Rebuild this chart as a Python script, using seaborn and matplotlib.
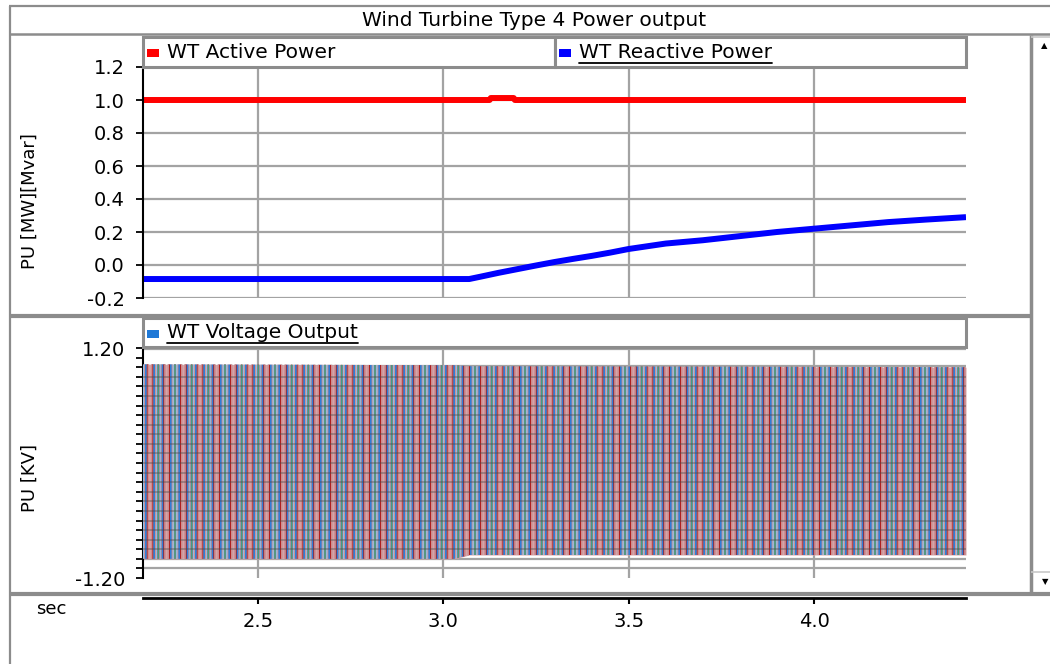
import numpy as np
import matplotlib
matplotlib.use("Agg")
import matplotlib.pyplot as plt
from matplotlib.patches import Rectangle
from matplotlib.lines import Line2D
import seaborn as sns

# ---- data -------------------------------------------------------------
# Active power output (pu)
t_active = [2.19, 3.125, 3.128, 3.19, 3.193, 4.41]
p_active = [1.0, 1.0, 1.012, 1.012, 1.0, 1.0]

# Reactive power output (pu)
t_reactive = [2.19, 3.07, 3.10, 3.15, 3.20, 3.25, 3.30, 3.35, 3.40, 3.45,
              3.50, 3.60, 3.70, 3.80, 3.90, 4.00, 4.10, 4.20, 4.30, 4.41]
q_reactive = [-0.085, -0.085, -0.071, -0.047, -0.025, -0.003, 0.018, 0.037,
              0.055, 0.075, 0.097, 0.13, 0.15, 0.175, 0.20, 0.22, 0.24,
              0.26, 0.275, 0.29]

# Three-phase terminal voltage envelope (pu)
t_voltage = [2.19, 3.03, 3.07, 4.41]
v_upper = [1.03, 1.02, 1.01, 1.0]
v_lower = [-1.0, -1.0, -0.96, -0.96]

x_ticks = [2.5, 3.0, 3.5, 4.0]
x_tick_labels = ["2.5", "3.0", "3.5", "4.0"]
top_y_ticks = [-0.2, 0.0, 0.2, 0.4, 0.6, 0.8, 1.0, 1.2]
top_y_labels = ["-0.2", "0.0", "0.2", "0.4", "0.6", "0.8", "1.0", "1.2"]
bottom_y_ticks = [-1.2, 1.2]
bottom_y_labels = ["-1.20", "1.20"]

title = "Wind Turbine Type 4 Power output"
series_names = ["WT Active Power", "WT Reactive Power", "WT Voltage Output"]

# ---- style ------------------------------------------------------------
sns.set_theme(style="white")
plt.rcParams["font.family"] = ["DejaVu Sans"]
plt.rcParams["hatch.linewidth"] = 1.2

W, H = 1050, 664
fig = plt.figure(figsize=(W / 100, H / 100), dpi=100)
fig.patch.set_facecolor("white")

FRAME = "#8c8c8c"
GRID = "#a3a3a3"
XLIM = (2.19, 4.41)
TICK_FS = 14
LEG_FS = 14.5


def fxy(x, y):
    return x / W, 1 - y / H


def add_ax(x0, y0, x1, y1):
    return fig.add_axes([x0 / W, 1 - y1 / H, (x1 - x0) / W, (y1 - y0) / H])


def hline(x0, x1, y, lw=2.0, color=FRAME):
    fig.add_artist(Line2D([x0 / W, x1 / W], [1 - y / H, 1 - y / H],
                          transform=fig.transFigure, color=color, lw=lw,
                          solid_capstyle="butt"))


def vline(x, y0, y1, lw=2.0, color=FRAME):
    fig.add_artist(Line2D([x / W, x / W], [1 - y0 / H, 1 - y1 / H],
                          transform=fig.transFigure, color=color, lw=lw,
                          solid_capstyle="butt"))


def style_axes(ax):
    for s in ["top", "right", "bottom"]:
        ax.spines[s].set_visible(False)
    ax.spines["left"].set_color("black")
    ax.spines["left"].set_linewidth(1.5)
    ax.set_facecolor("white")
    ax.set_xlim(*XLIM)
    ax.set_xticks(x_ticks)
    ax.tick_params(axis="x", length=0, labelbottom=False)
    ax.tick_params(axis="y", which="both", direction="out", length=5,
                   width=1.3, color="black", pad=8, labelsize=TICK_FS,
                   labelcolor="black", left=True)
    ax.set_xlabel("")
    ax.set_ylabel("")


# ---- window frame -----------------------------------------------------
hline(9, 1050, 6, lw=1.6)
vline(10, 6, 664, lw=1.6)
hline(9, 1050, 34, lw=1.8)
hline(9, 1032, 316, lw=3.0)
hline(9, 1050, 594, lw=3.0)
vline(1031, 35, 594, lw=2.5)
hline(1031, 1050, 37, lw=1.2, color="#c8c8c8")
hline(1031, 1050, 572, lw=1.2, color="#c8c8c8")
fig.text(*fxy(1044, 46), "\u25B2", ha="center", va="center", fontsize=6, color="black")
fig.text(*fxy(1045, 582), "\u25BC", ha="center", va="center", fontsize=6, color="black")
fig.text(*fxy(534, 20), title, ha="center", va="center", fontsize=14.5, color="black")

# ---- top panel: active / reactive power -------------------------------
ax1 = add_ax(143, 67, 966, 298)
style_axes(ax1)
ax1.set_ylim(-0.2, 1.2)
ax1.set_yticks(top_y_ticks)
ax1.set_yticklabels(top_y_labels)
ax1.grid(True, color=GRID, lw=1.6)
ax1.set_axisbelow(True)
sns.lineplot(x=t_active, y=p_active, ax=ax1, color="#ff0000", lw=4.3,
             legend=False, sort=False)
sns.lineplot(x=t_reactive, y=q_reactive, ax=ax1, color="#0000ff", lw=4.3,
             legend=False, sort=False)
for ln in ax1.lines:
    ln.set_solid_capstyle("butt")
ax1.set_xlim(*XLIM)
fig.text(*fxy(30, 201), "PU [MW][Mvar]", rotation=90, ha="center",
         va="center", fontsize=13, color="black")

# ---- bottom panel: voltage --------------------------------------------
ax2 = add_ax(143, 348, 966, 578)
style_axes(ax2)
ax2.set_ylim(-1.2, 1.2)
ax2.set_yticks(bottom_y_ticks)
ax2.set_yticklabels(bottom_y_labels)
ax2.set_yticks(np.round(np.arange(-1.1, 1.15, 0.1), 2), minor=True)
ax2.grid(True, axis="x", color=GRID, lw=1.6)
for yv in [1.19, 1.01, -1.0, -1.1]:
    ax2.axhline(yv, color=GRID, lw=1.6, zorder=0.5)
ax2.set_axisbelow(True)

# dense three-phase trace drawn as a striped band between its envelopes
ax2.fill_between(t_voltage, v_lower, v_upper, facecolor="#d6a4a9",
                 lw=0, zorder=2)
for hatch, col in [("||||", "#8fbde6"), ("|||", "#a80c0c"),
                   ("|||||", "#cf8c8c"), ("|", "#3f9c86"),
                   ("||", "#2f7fd8")]:
    ax2.fill_between(t_voltage, v_lower, v_upper, facecolor="none",
                     edgecolor=col, hatch=hatch, lw=0, zorder=3)
ax2.hlines(np.round(np.arange(-0.9, 1.0, 0.1), 2), t_voltage[0],
           t_voltage[-1], color="#4a4a4a", alpha=0.38, lw=1.4, zorder=4)
ax2.set_xlim(*XLIM)
fig.text(*fxy(30, 478), "PU [KV]", rotation=90, ha="center",
         va="center", fontsize=13, color="black")

# ---- time axis --------------------------------------------------------
ax3 = add_ax(143, 597, 966, 598)
ax3.set_facecolor("none")
for s in ["top", "right", "left"]:
    ax3.spines[s].set_visible(False)
ax3.spines["bottom"].set_color("black")
ax3.spines["bottom"].set_linewidth(2.0)
ax3.set_xlim(*XLIM)
ax3.set_xticks(x_ticks)
ax3.set_xticklabels(x_tick_labels)
ax3.set_yticks([])
ax3.tick_params(axis="x", direction="out", length=4, width=1.5,
                color="black", labelsize=TICK_FS, labelcolor="black", pad=6,
                bottom=True)
fig.text(*fxy(51, 609), "sec", ha="center", va="center", fontsize=13, color="black")

# ---- legend boxes -----------------------------------------------------
legend_boxes = [
    (143, 37, 555, 67, "#ff0000", False),
    (555, 37, 966, 67, "#0000ff", True),
    (143, 318, 966, 347, "#1e78d6", True),
]
texts = []
for (x0, y0, x1, y1, col, underline), name in zip(legend_boxes, series_names):
    fig.add_artist(Rectangle(fxy(x0, y1), (x1 - x0) / W, (y1 - y0) / H,
                             transform=fig.transFigure, facecolor="white",
                             edgecolor=FRAME, lw=2.2, zorder=5))
    fig.add_artist(Rectangle(fxy(x0 + 4, (y0 + y1) / 2 - 4 + 9), 12 / W, 8 / H,
                             transform=fig.transFigure, facecolor=col,
                             edgecolor="none", zorder=6))
    t = fig.text(*fxy(x0 + 24, (y0 + y1) / 2), name, ha="left", va="center",
                 fontsize=LEG_FS, color="black", zorder=6)
    texts.append((t, underline))

fig.canvas.draw()
renderer = fig.canvas.get_renderer()
for t, underline in texts:
    if underline:
        bb = t.get_window_extent(renderer)
        yline = bb.y0 - 1
        fig.add_artist(Line2D([bb.x0 / W, bb.x1 / W], [yline / H, yline / H],
                              transform=fig.transFigure, color="black",
                              lw=1.3, zorder=7))

fig.savefig("out.png", dpi=100, facecolor="white")
